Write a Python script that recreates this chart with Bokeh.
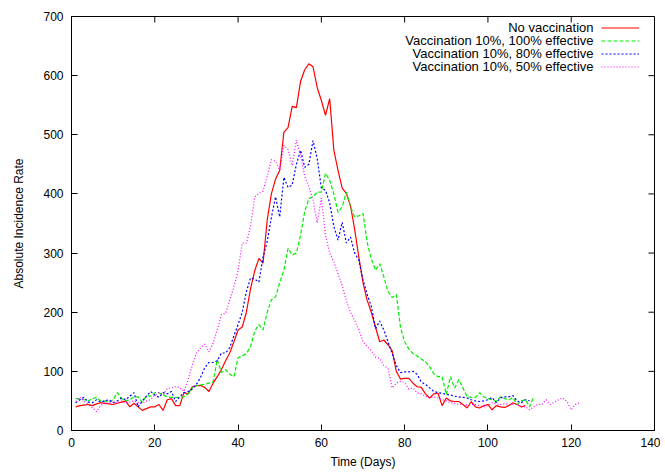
import math
from bokeh.plotting import figure
from bokeh.models import Range1d, FixedTicker, Legend, LegendItem, Label
from bokeh.embed import file_html
from bokeh.resources import INLINE

# ---------------- data ----------------
x_ticks = [0, 20, 40, 60, 80, 100, 120, 140]
y_ticks = [0, 100, 200, 300, 400, 500, 600, 700]

series_names = ["No vaccination",
                "Vaccination 10%, 100% effective",
                "Vaccination 10%, 80% effective",
                "Vaccination 10%, 50% effective"]

no_vacc = [40, 42, 43, 44, 42, 45, 47, 46, 45, 44,
           46, 48, 50, 40, 46, 40, 34, 37, 40, 40,
           44, 34, 52, 54, 42, 42, 64, 62, 74, 76,
           76, 73, 66, 80, 91, 103, 118, 131, 150, 170,
           175, 200, 240, 270, 291, 283, 356, 400, 425, 440,
           504, 512, 548, 546, 590, 610, 620, 615, 580, 558,
           533, 561, 474, 440, 410, 401, 380, 340, 293, 250,
           220, 200, 175, 150, 153, 145, 135, 100, 87, 88,
           88, 80, 74, 73, 62, 55, 62, 63, 42, 55,
           50, 49, 49, 44, 38, 49, 40, 38, 42, 44,
           35, 42, 40, 39, 42, 47, 44, 40, 42]

vacc_100 = [54, 54, 52, 50, 54, 56, 50, 50, 48, 52,
            64, 54, 50, 52, 57, 57, 48, 59, 58, 64,
            64, 60, 57, 56, 56, 56, 57, 62, 72, 76,
            77, 78, 80, 82, 120, 98, 103, 95, 91, 123,
            126, 130, 142, 168, 179, 170, 200, 221, 226, 250,
            271, 308, 297, 300, 330, 370, 392, 395, 403, 403,
            435, 423, 400, 369, 378, 403, 378, 361, 363, 367,
            318, 290, 271, 282, 260, 235, 225, 230, 175, 150,
            138, 130, 126, 121, 116, 108, 96, 91, 91, 61,
            91, 72, 86, 72, 57, 56, 56, 64, 57, 54,
            52, 49, 57, 54, 52, 56, 44, 50, 52, 40,
            57]

vacc_80 = [47, 52, 56, 48, 47, 52, 48, 50, 52, 47,
           50, 55, 52, 58, 64, 40, 50, 58, 66, 60,
           56, 64, 62, 66, 49, 57, 64, 66, 70, 78,
           90, 106, 115, 115, 118, 131, 131, 140, 160, 179,
           200, 235, 258, 256, 251, 293, 320, 360, 395, 361,
           428, 411, 415, 450, 474, 445, 450, 490, 460, 410,
           406, 385, 345, 322, 352, 317, 327, 300, 288, 255,
           230, 210, 172, 185, 170, 150, 130, 110, 98, 99,
           99, 100, 95, 82, 78, 72, 66, 64, 63, 61,
           60, 58, 57, 56, 55, 52, 50, 49, 50, 52,
           56, 47, 55, 57, 57, 59, 50, 47, 52, 50]

vacc_50 = [49, 56, 50, 44, 39, 32, 42, 47, 46, 48,
           47, 50, 46, 48, 50, 47, 46, 50, 52, 60,
           64, 60, 71, 72, 74, 73, 66, 86, 110, 131,
           140, 146, 133, 148, 170, 196, 198, 220, 243, 270,
           317, 317, 345, 395, 401, 405, 430, 458, 455, 440,
           482, 475, 448, 491, 465, 430, 412, 390, 351, 393,
           330, 300, 285, 265, 245, 220, 200, 186, 170, 150,
           142, 135, 124, 122, 110, 105, 72, 80, 83, 81,
           70, 72, 64, 62, 58, 55, 57, 55, 52, 50,
           47, 46, 44, 44, 43, 44, 44, 42, 40, 42,
           47, 45, 44, 45, 44, 44, 44, 40, 40, 35,
           40, 44, 44, 52, 44, 48, 52, 55, 49, 35,
           44, 47]

first_day = 1

# ---------------- figure ----------------
FONT = "Liberation Sans"
x_min, x_max = x_ticks[0], x_ticks[-1]
y_min, y_max = y_ticks[0], y_ticks[-1]

p = figure(width=660, height=471, output_backend="svg", toolbar_location=None,
           x_range=Range1d(x_min, x_max), y_range=Range1d(y_min, y_max),
           min_border_left=71, min_border_right=6, min_border_top=16, min_border_bottom=40)
p.background_fill_color = "white"
p.border_fill_color = "white"
p.outline_line_color = "black"
p.outline_line_width = 1
p.xgrid.visible = False
p.ygrid.visible = False

for ax, ticks in ((p.xaxis[0], x_ticks), (p.yaxis[0], y_ticks)):
    ax.ticker = FixedTicker(ticks=ticks)
    ax.major_tick_in = 6
    ax.major_tick_out = 0
    ax.minor_tick_in = 0
    ax.minor_tick_out = 0
    ax.major_tick_line_color = "black"
    ax.axis_line_color = "black"
    ax.major_label_text_font = FONT
    ax.major_label_text_font_size = "12px"
    ax.major_label_text_color = "black"
    ax.axis_label_text_font = FONT
    ax.axis_label_text_font_size = "12px"
    ax.axis_label_text_font_style = "normal"
    ax.axis_label_text_color = "black"

p.xaxis[0].major_label_standoff = 7
p.yaxis[0].major_label_standoff = 8
p.xaxis[0].axis_label = "Time (Days)"
p.yaxis[0].axis_label = "Absolute Incidence Rate"
p.xaxis[0].axis_label_standoff = 5
p.yaxis[0].axis_label_standoff = 14

# mirrored inward ticks on the top and right borders (gnuplot style)
p.ray(x=x_ticks, y=[y_max] * len(x_ticks), length=6, length_units="screen",
      angle=-math.pi / 2, line_color="black", line_width=1)
p.ray(x=[x_max] * len(y_ticks), y=y_ticks, length=6, length_units="screen",
      angle=math.pi, line_color="black", line_width=1)

colors = ["#ff0000", "#00ee00", "#0000ff", "#ff00ff"]
dashes = ["solid", "4 2", "2 2", "1 2"]
all_series = [no_vacc, vacc_100, vacc_80, vacc_50]

renderers = []
for vals, c, d in zip(all_series, colors, dashes):
    days = list(range(first_day, first_day + len(vals)))
    r = p.line(days, vals, line_color=c, line_width=1.2, line_dash=d)
    renderers.append(r)

# legend: samples on the right, right-aligned text on the left (gnuplot style)
legend = Legend(items=[LegendItem(label=" ", renderers=[r]) for r in renderers],
                location=(526, 353), orientation="vertical",
                glyph_width=38, glyph_height=13, label_height=13, label_width=0,
                label_standoff=0, label_text_font_size="1px", spacing=0,
                padding=4, margin=0,
                background_fill_alpha=0, border_line_alpha=0)
p.add_layout(legend, "center")

for i, name in enumerate(series_names):
    p.add_layout(Label(x=522, y=402.7 - 13 * i, x_units="screen", y_units="screen",
                       text=name, text_align="right", text_baseline="middle",
                       text_font=FONT, text_font_size="13px", text_color="black"))

open("out.html", "w").write(file_html(p, INLINE))
